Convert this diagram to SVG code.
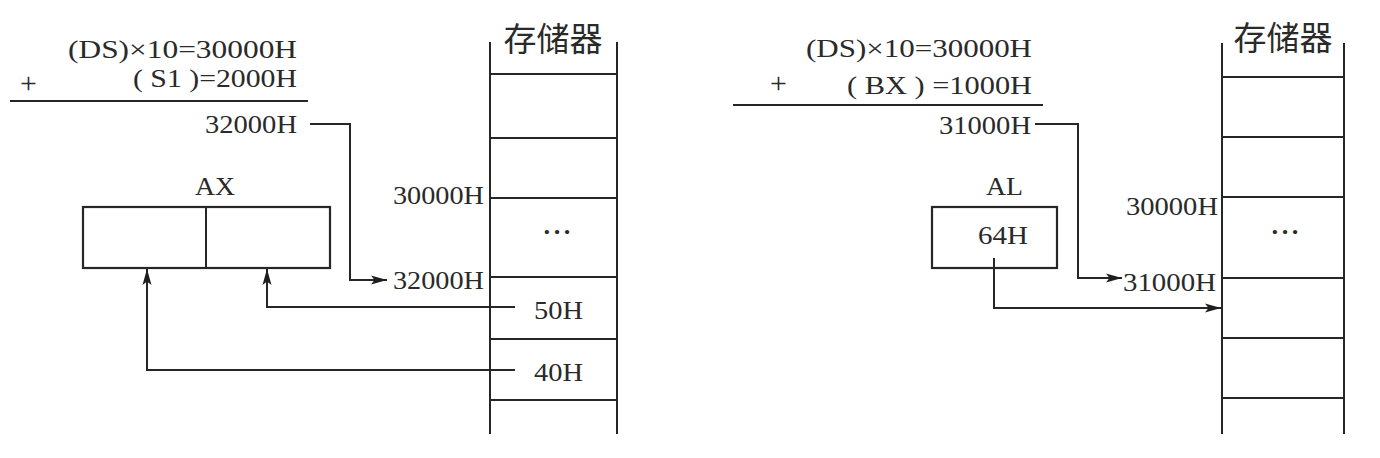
<svg xmlns="http://www.w3.org/2000/svg" width="1380" height="458" viewBox="0 0 1380 458">
<style>
.t{font-family:"Liberation Serif","Times New Roman",serif;font-size:26px;fill:#2a2a2a}
.m{text-anchor:end}
.c{text-anchor:middle}
.d{font-weight:bold}
.p{font-size:30px}
.cjk{font-family:"Noto Sans CJK SC","Noto Sans CJK JP",sans-serif;font-size:33px;fill:#2a2a2a;text-anchor:middle}
.ln{stroke:#262626;stroke-width:2;fill:none}
.bx{stroke:#262626;stroke-width:2.2;fill:#fff}
</style>
<defs>
<marker id="ar" viewBox="0 0 16 10" refX="16" refY="5" markerWidth="16" markerHeight="10" markerUnits="userSpaceOnUse" orient="auto">
<path d="M0,0.5 L16,5 L0,9.5 L3.5,5 Z" fill="#1e1e1e"/>
</marker>
</defs>
<rect width="1380" height="458" fill="#fff"/>

<!-- Left: address calculation -->
<g id="calc-left">
<text class="t m" x="297" y="58" textLength="229" lengthAdjust="spacingAndGlyphs">(DS)×10=30000H</text>
<text class="t p" x="20" y="93">+</text>
<text class="t m" x="297" y="87" textLength="164" lengthAdjust="spacingAndGlyphs">( S1 )=2000H</text>
<line class="ln" x1="10" y1="101" x2="308" y2="101"/>
<text class="t m" x="297" y="133" textLength="92" lengthAdjust="spacingAndGlyphs">32000H</text>
</g>

<!-- Left: memory -->
<g id="mem-left">
<text class="cjk" x="553" y="51">存储器</text>
<line class="ln" x1="490" y1="42" x2="490" y2="434"/>
<line class="ln" x1="617" y1="42" x2="617" y2="434"/>
<line class="ln" x1="490" y1="74" x2="617" y2="74"/>
<line class="ln" x1="490" y1="138" x2="617" y2="138"/>
<line class="ln" x1="490" y1="198" x2="617" y2="198"/>
<line class="ln" x1="490" y1="277" x2="617" y2="277"/>
<line class="ln" x1="490" y1="339" x2="617" y2="339"/>
<line class="ln" x1="490" y1="400" x2="617" y2="400"/>
<text class="t m" x="484" y="204" textLength="91" lengthAdjust="spacingAndGlyphs">30000H</text>
<text class="t c d" x="557" y="240" textLength="29" lengthAdjust="spacing">···</text>
<text class="t m" x="484" y="289" textLength="91" lengthAdjust="spacingAndGlyphs">32000H</text>
<text class="t" x="534" y="319" textLength="49" lengthAdjust="spacingAndGlyphs">50H</text>
<text class="t" x="534" y="381" textLength="49" lengthAdjust="spacingAndGlyphs">40H</text>
</g>

<!-- Left: AX register -->
<g id="reg-ax">
<text class="t" x="195" y="195" textLength="40" lengthAdjust="spacingAndGlyphs">AX</text>
<rect class="bx" x="83" y="207" width="247" height="61"/>
<line class="ln" x1="206" y1="207" x2="206" y2="268"/>
</g>

<!-- Right: address calculation -->
<g id="calc-right">
<text class="t m" x="1032" y="57" textLength="226" lengthAdjust="spacingAndGlyphs">(DS)×10=30000H</text>
<text class="t p" x="770" y="93">+</text>
<text class="t m" x="1032" y="94" textLength="185" lengthAdjust="spacingAndGlyphs">( BX ) =1000H</text>
<line class="ln" x1="733" y1="105" x2="1043" y2="105"/>
<text class="t m" x="1031" y="134" textLength="92" lengthAdjust="spacingAndGlyphs">31000H</text>
</g>

<!-- Right: memory -->
<g id="mem-right">
<text class="cjk" x="1283" y="50">存储器</text>
<line class="ln" x1="1222" y1="43" x2="1222" y2="434"/>
<line class="ln" x1="1344" y1="43" x2="1344" y2="434"/>
<line class="ln" x1="1222" y1="77" x2="1344" y2="77"/>
<line class="ln" x1="1222" y1="137" x2="1344" y2="137"/>
<line class="ln" x1="1222" y1="197" x2="1344" y2="197"/>
<line class="ln" x1="1222" y1="278" x2="1344" y2="278"/>
<line class="ln" x1="1222" y1="338" x2="1344" y2="338"/>
<line class="ln" x1="1222" y1="398" x2="1344" y2="398"/>
<text class="t m" x="1218" y="215" textLength="92" lengthAdjust="spacingAndGlyphs">30000H</text>
<text class="t c d" x="1285" y="240" textLength="29" lengthAdjust="spacing">···</text>
<text class="t m" x="1216" y="291" textLength="93" lengthAdjust="spacingAndGlyphs">31000H</text>
</g>

<!-- Right: AL register -->
<g id="reg-al">
<text class="t" x="986" y="195" textLength="37" lengthAdjust="spacingAndGlyphs">AL</text>
<rect class="bx" x="932" y="207" width="125" height="61"/>
<text class="t" x="978" y="244" textLength="50" lengthAdjust="spacingAndGlyphs">64H</text>
</g>

<!-- Connectors -->
<g id="connectors">
<polyline class="ln" points="310,124 350,124 350,280 387,280" marker-end="url(#ar)"/>
<polyline class="ln" points="515,307 267,307 267,269" marker-end="url(#ar)"/>
<polyline class="ln" points="515,370 147,370 147,269" marker-end="url(#ar)"/>
<polyline class="ln" points="1035,124 1078,124 1078,278 1122,278" marker-end="url(#ar)"/>
<polyline class="ln" points="994,258 994,308 1221,308" marker-end="url(#ar)"/>
</g>
</svg>
